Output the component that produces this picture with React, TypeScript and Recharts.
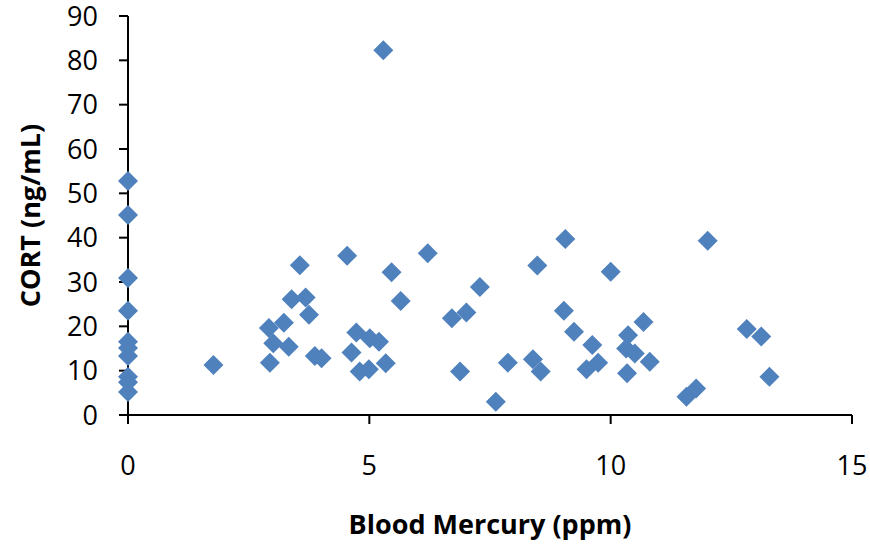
import { ScatterChart, Scatter, XAxis, YAxis, Label } from 'recharts'

// Blood mercury (ppm) vs CORT (ng/mL)
const mercury = [
  0, 0, 0, 0, 0, 0, 0, 0, 0, 0,
  1.77, 2.92, 2.94, 3.01, 3.23, 3.33, 3.39, 3.56, 3.68, 3.75, 3.87, 4.01,
  4.54, 4.63, 4.73, 4.8, 4.99, 5.01, 5.2, 5.29, 5.34, 5.46, 5.65, 6.21,
  6.71, 6.88, 7.01, 7.29, 7.62, 7.87, 8.39, 8.48, 8.55, 9.03, 9.06, 9.24,
  9.5, 9.62, 9.74, 10.0, 10.32, 10.34, 10.36, 10.5, 10.68, 10.81,
  11.57, 11.77, 12.01, 12.82, 13.12, 13.29,
]
const cort = [
  52.8, 45.1, 30.9, 23.5, 16.5, 15.1, 13.3, 8.6, 7.4, 5.2,
  11.3, 19.6, 11.8, 16.2, 20.8, 15.4, 26.1, 33.8, 26.5, 22.6, 13.3, 12.8,
  35.9, 14.1, 18.6, 9.8, 10.3, 17.3, 16.5, 82.3, 11.7, 32.2, 25.7, 36.5,
  21.8, 9.8, 23.1, 28.9, 3.0, 11.8, 12.6, 33.7, 9.8, 23.5, 39.7, 18.8,
  10.3, 15.8, 11.8, 32.3, 15.0, 9.4, 18.0, 13.9, 21.0, 12.0,
  4.1, 6.0, 39.3, 19.4, 17.7, 8.6,
]
const xTicks = [0, 5, 10, 15]
const yTicks = [0, 10, 20, 30, 40, 50, 60, 70, 80, 90]

const points = mercury.map((x, i) => ({ x, y: cort[i] }))

const FONT = '"Open Sans", sans-serif'
const BLUE = '#4F81BD'

function Diamond(props: any) {
  const { cx, cy } = props
  const r = 10
  return (
    <polygon
      points={`${cx},${cy - r} ${cx + r},${cy} ${cx},${cy + r} ${cx - r},${cy}`}
      fill={BLUE}
    />
  )
}

// rotated y title, centred on the plot height
function YTitle(props: any) {
  const vb = props.viewBox || { x: 0, y: 16, width: 128, height: 399 }
  const x = vb.x + 29
  const y = vb.y + vb.height / 2
  return (
    <text
      x={x}
      y={y}
      transform={`rotate(-90, ${x}, ${y})`}
      textAnchor="middle"
      dominantBaseline="central"
      fill="#000"
      fontSize={27}
      fontWeight={700}
      fontFamily={FONT}
    >
      CORT (ng/mL)
    </text>
  )
}

export default function App() {
  return (
    <div style={{ position: 'absolute', left: 0, top: 0, background: '#fff' }}>
      <ScatterChart
        width={870}
        height={544}
        margin={{ top: 16, right: 18, bottom: 0, left: 0 }}
      >
        <XAxis
          type="number"
          dataKey="x"
          domain={[0, 15]}
          ticks={xTicks}
          height={129}
          axisLine={{ stroke: '#000', strokeWidth: 2 }}
          tickLine={{ stroke: '#000', strokeWidth: 2 }}
          tickSize={9}
          tickMargin={32}
          tick={{ fill: '#000', fontSize: 27, fontFamily: FONT }}
          label={{
            value: 'Blood Mercury (ppm)',
            position: 'insideBottom',
            offset: 10,
            fill: '#000',
            fontSize: 27,
            fontWeight: 700,
            fontFamily: FONT,
          }}
        />
        <YAxis
          type="number"
          dataKey="y"
          domain={[0, 90]}
          ticks={yTicks}
          width={128}
          axisLine={{ stroke: '#000', strokeWidth: 2 }}
          tickLine={{ stroke: '#000', strokeWidth: 2 }}
          tickSize={9}
          tickMargin={21}
          tick={{ fill: '#000', fontSize: 27, fontFamily: FONT }}
        >
          <Label content={YTitle} />
        </YAxis>
        <Scatter data={points} shape={Diamond} isAnimationActive={false} />
      </ScatterChart>
    </div>
  )
}
